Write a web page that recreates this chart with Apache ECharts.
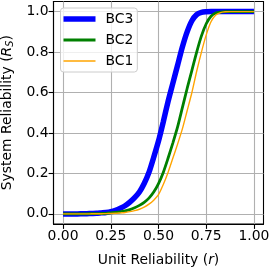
<!DOCTYPE html>
<html>
<head>
<meta charset="utf-8">
<script src="https://cdn.jsdelivr.net/npm/echarts@6/dist/echarts.min.js"></script>
<style>html,body{margin:0;padding:0;background:#fff}#c{width:270px;height:267px}</style>
</head>
<body>
<div id="c"></div>
<script>
const rValues = [0,0.025,0.05,0.075,0.1,0.125,0.15,0.175,0.2,0.225,0.25,0.275,0.3,0.325,0.35,0.375,0.4,0.425,0.45,0.475,0.5,0.525,0.55,0.575,0.6,0.625,0.65,0.675,0.7,0.725,0.75,0.775,0.8,0.825,0.85,0.875,0.9,0.925,0.95,0.975,1];
const bc3 = [0,0,0,0,0.0005,0.001,0.002,0.003,0.005,0.007,0.011,0.018,0.028,0.04,0.058,0.08,0.108,0.15,0.205,0.28,0.36,0.455,0.555,0.645,0.735,0.825,0.9,0.955,0.985,0.996,0.999,1,1,1,1,1,1,1,1,1,1];
const bc2 = [0,0,0,0,0,0.0005,0.001,0.0015,0.002,0.003,0.005,0.007,0.01,0.015,0.021,0.03,0.042,0.057,0.078,0.108,0.15,0.205,0.275,0.35,0.43,0.525,0.62,0.71,0.8,0.88,0.94,0.977,0.993,0.998,1,1,1,1,1,1,1];
const bc1 = [0,0,0,0,0,0,0.0005,0.0007,0.001,0.0015,0.002,0.003,0.005,0.007,0.011,0.016,0.023,0.033,0.048,0.068,0.095,0.145,0.205,0.275,0.345,0.42,0.51,0.6,0.705,0.8,0.885,0.95,0.983,0.995,0.999,1,1,1,1,1,1];
const seriesNames = ['BC3','BC2','BC1'];
const xTicks = [0,0.25,0.5,0.75,1];
const yTicks = [0,0.2,0.4,0.6,0.8,1];

const pair = arr => rValues.map((r,i)=>[r,arr[i]]);
const FONT = 'DejaVu Sans';
const FS = 13.9;
const colors = {BC3:'#0000ff', BC2:'#008000', BC1:'#ffa500'};
const widths = {BC3:5.5, BC2:2.8, BC1:1.4};
const chart = echarts.init(document.getElementById('c'), null, {renderer:'canvas'});
const lineSeries = (name, data) => ({
  name, type:'line', data: pair(data), showSymbol:false, symbol:'none',
  smooth:0.25,
  lineStyle:{color:colors[name], width:widths[name]}, itemStyle:{color:colors[name]}, animation:false
});
chart.setOption({
  animation:false,
  grid:{left:53.5, right:6.5, top:1.5, bottom:43, outerBoundsMode:'none', containLabel:false,
        show:true, borderColor:'#000', borderWidth:1.1, backgroundColor:'transparent'},
  legend:{
    show:true, orient:'vertical', left:60.5, top:8, itemWidth:32, itemHeight:14, itemGap:7,
    padding:[4,4,4,3], borderColor:'#cccccc', borderWidth:1, borderRadius:3,
    backgroundColor:'rgba(255,255,255,0.8)',
    textStyle:{fontFamily:FONT, fontSize:FS, color:'#000', padding:[0,0,0,5]},
    data: seriesNames.map(n=>({name:n, icon:'path://M0,0H32V'+widths[n]+'H0Z', itemStyle:{color:colors[n], borderWidth:0}}))
  },
  xAxis:{
    type:'value', min:-0.05, max:1.05,
    name:'Unit Reliability ({i|r})', nameLocation:'middle', nameGap:29,
    nameTextStyle:{fontFamily:FONT, fontSize:FS, color:'#000', rich:{i:{fontFamily:FONT, fontSize:FS, fontStyle:'italic', color:'#000'}}},
    axisLine:{show:true, onZero:false, lineStyle:{color:'#000', width:1.1}},
    axisTick:{show:true, length:4.9, lineStyle:{color:'#000', width:1.1}, customValues:xTicks},
    axisLabel:{fontFamily:FONT, fontSize:FS, color:'#000', margin:5, customValues:xTicks, formatter:v=>v.toFixed(2)},
    splitLine:{show:true, lineStyle:{color:'#b0b0b0', width:1.1}}
  },
  yAxis:{
    type:'value', min:-0.05, max:1.05,
    name:'System Reliability ({i|R}{s|S})', nameLocation:'middle', nameGap:37.5,
    nameTextStyle:{fontFamily:FONT, fontSize:FS, color:'#000', rich:{
      i:{fontFamily:FONT, fontSize:FS, fontStyle:'italic', color:'#000'},
      s:{fontFamily:FONT, fontSize:FS*0.7, fontStyle:'italic', color:'#000', verticalAlign:'bottom', padding:[6,0,0,0]}}},
    axisLine:{show:true, onZero:false, lineStyle:{color:'#000', width:1.1}},
    axisTick:{show:true, length:4.9, lineStyle:{color:'#000', width:1.1}, customValues:yTicks},
    axisLabel:{fontFamily:FONT, fontSize:FS, color:'#000', margin:5, customValues:yTicks, formatter:v=>v.toFixed(1)},
    splitLine:{show:true, lineStyle:{color:'#b0b0b0', width:1.1}}
  },
  series: seriesNames.map(n => lineSeries(n, n==='BC3'?bc3:(n==='BC2'?bc2:bc1)))
});
</script>
</body>
</html>
